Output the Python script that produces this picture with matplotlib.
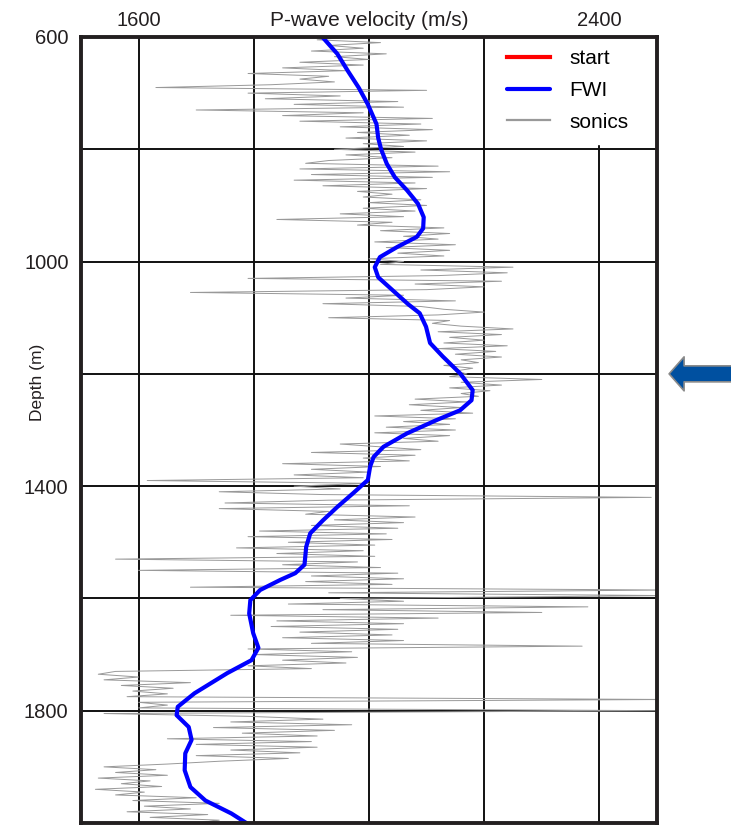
import numpy as np
import matplotlib
matplotlib.use("Agg")
import matplotlib.pyplot as plt

plt.rcParams['font.family'] = ['Liberation Sans', 'DejaVu Sans']

# FWI velocity model picked along the well
fwi_depth = [600, 630, 660, 690, 720, 755, 780, 800, 826, 850, 873, 897, 921, 941,
             956, 974, 992, 1010, 1028, 1052, 1076, 1092, 1116, 1145, 1169, 1199,
             1229, 1247, 1265, 1282, 1306, 1330, 1348, 1365, 1389, 1413, 1437, 1461,
             1484, 1508, 1540, 1555, 1567, 1585, 1603, 1627, 1662, 1688, 1710, 1733,
             1769, 1793, 1808, 1829, 1852, 1876, 1906, 1936, 1960, 1983, 2000]
fwi_vel = [1919, 1945, 1963, 1982, 1998, 2013, 2016, 2021, 2031, 2045, 2066, 2085,
           2095, 2094, 2083, 2049, 2019, 2010, 2016, 2042, 2068, 2088, 2099, 2106,
           2128, 2158, 2180, 2178, 2158, 2118, 2066, 2025, 2008, 2002, 1998, 1972,
           1945, 1920, 1898, 1891, 1888, 1872, 1846, 1811, 1794, 1792, 1799, 1808,
           1796, 1754, 1697, 1668, 1666, 1687, 1692, 1681, 1680, 1690, 1716, 1761,
           1787]

# sonic log, one sample every 5 m from 600 m to 2000 m
sonic_depth = np.arange(600, 2001, 5)
sonic_vel = [
    1960, 1910, 2020, 1930, 1990, 1900, 2030, 1940, 2000, 1880,
    1990, 1850, 1960, 1790, 1930, 1880, 1940, 1830, 1630, 2100,
    1790, 1950, 1820, 2050, 1870, 2060, 1700, 1990, 1850, 2110,
    1880, 2090, 1950, 2110, 1980, 2070, 1960, 2100, 1990, 2060,
    1940, 2080, 1960, 2040, 1930, 1890, 2120, 1880, 2140, 1900,
    2110, 1870, 2080, 1920, 2100, 1980, 2040, 1990, 2090, 2000,
    2100, 1990, 2080, 1950, 2060, 1840, 2040, 1980, 2130, 2020,
    2140, 2060, 2120, 2010, 2150, 2030, 2140, 2050, 2130, 2000,
    2060, 2020, 2250, 2090, 2240, 2120, 1790, 2230, 2080, 2200,
    2100, 1690, 2060, 1960, 2150, 1920, 2090, 2130, 2200, 2120,
    1930, 2140, 2110, 2160, 2250, 2120, 2230, 2140, 2200, 2130,
    2240, 2120, 2220, 2150, 2230, 2160, 2190, 2130, 2180, 2150,
    2170, 2140, 2300, 2160, 2230, 2140, 2210, 2160, 2190, 2080,
    2170, 2070, 2160, 2090, 2180, 2010, 2150, 2060, 2140, 2030,
    2150, 2010, 2140, 2060, 2120, 1950, 2020, 2090, 1900, 2080,
    1990, 2070, 1850, 2020, 1900, 2000, 1870, 1990, 1615, 2000,
    1870, 1950, 1740, 1920, 2490, 1930, 1750, 2070, 1740, 1930,
    1890, 2080, 1940, 2060, 1900, 2050, 1810, 2030, 1790, 2040,
    1860, 2010, 1770, 1990, 1840, 2010, 1560, 1980, 1850, 2020,
    1600, 2050, 1900, 2060, 1890, 2040, 1690, 2520, 1930, 2520,
    1950, 2060, 1860, 2380, 1920, 2300, 1760, 2120, 1840, 2060,
    1830, 2050, 1880, 2040, 1850, 2060, 1900, 2370, 1790, 1970,
    1800, 1980, 1850, 1960, 1790, 1900, 1560, 1530, 1600, 1540,
    1690, 1570, 1660, 1590, 1650, 1580, 2520, 1600, 1650, 1600,
    2520, 1540, 1790, 1920, 1760, 1970, 1730, 1940, 1780, 1910,
    1650, 1900, 1700, 1910, 1760, 1880, 1700, 1860, 1740, 1650,
    1540, 1630, 1560, 1650, 1530, 1620, 1570, 1640, 1525, 1610,
    1560, 1700, 1590, 1740, 1610, 1690, 1580, 1720, 1620, 1740,
    1700,
]

vel_grid = [1600, 1800, 2000, 2200, 2400]
vel_labels = ['1600', '', '', '', '2400']
depth_grid = [600, 800, 1000, 1200, 1400, 1600, 1800, 2000]
depth_labels = ['600', '', '1000', '', '1400', '', '1800', '']
marker_depth = 1200

fig = plt.figure(figsize=(7.31, 8.25), dpi=100)
ax = fig.add_axes([81 / 731, 2 / 825, 576 / 731, 786 / 825])

ax.plot(sonic_vel, sonic_depth, color='#999999', lw=0.7, zorder=2, label='sonics')
ax.plot([], [], color='#ff0000', lw=3, label='start')
ax.plot(fwi_vel, fwi_depth, color='#0000ff', lw=3, zorder=4, label='FWI',
        solid_capstyle='round')

ax.set_xlim(1500, 2500)
ax.set_ylim(2000, 600)

ax.xaxis.tick_top()
ax.set_xticks(vel_grid)
ax.set_xticklabels(vel_labels)
ax.set_yticks(depth_grid)
ax.set_yticklabels(depth_labels)
ax.tick_params(axis='both', length=0, labelsize=14.5, colors='#231f20')
ax.tick_params(axis='x', pad=5)
ax.tick_params(axis='y', pad=9)
ax.grid(True, color='#111111', lw=1.4, zorder=3)

for sp in ax.spines.values():
    sp.set_linewidth(2.8)
    sp.set_color('#231f20')
    sp.set_zorder(10)

ax.annotate('P-wave velocity (m/s)', xy=(2000, 1), xycoords=('data', 'axes fraction'),
            xytext=(0, 5), textcoords='offset points', ha='center', va='bottom',
            fontsize=15, color='#231f20')
ax.text(-0.075, 1215, 'Depth (m)', transform=ax.get_yaxis_transform(),
        rotation=90, ha='center', va='center', fontsize=12.5, color='#231f20')

# legend: start, FWI, sonics
h, l = ax.get_legend_handles_labels()
order = [l.index('start'), l.index('FWI'), l.index('sonics')]
leg = ax.legend([h[i] for i in order], [l[i] for i in order], loc='upper right',
                bbox_to_anchor=(0.972, 1), borderaxespad=0, borderpad=0.6,
                handlelength=2.1, handletextpad=0.9, labelspacing=0.6,
                fontsize=15, fancybox=False, framealpha=1,
                facecolor='white', edgecolor='white')
leg.set_zorder(6)
for line in leg.get_lines():
    if line.get_label() == 'sonics':
        line.set_linewidth(1.6)
    else:
        line.set_linewidth(3)

# arrow pointing at the depth of interest
ax.annotate('', xy=(1.021, marker_depth), xycoords=('axes fraction', 'data'),
            xytext=(1.16, marker_depth), textcoords=('axes fraction', 'data'),
            annotation_clip=False,
            arrowprops=dict(arrowstyle='simple,head_length=1.5,head_width=3.4,tail_width=1.6',
                            mutation_scale=7.2, fc='#0050a0', ec='#8a8a8a', lw=1.2,
                            shrinkA=0, shrinkB=0))

fig.savefig('out.png', dpi=100, facecolor='white')
